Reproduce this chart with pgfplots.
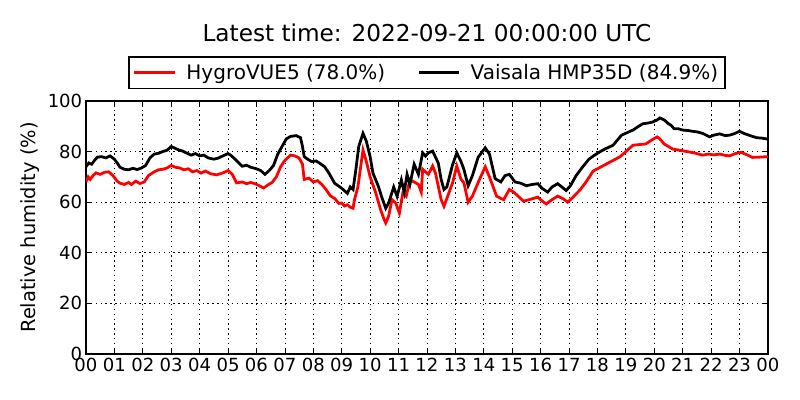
\documentclass[border=0pt]{standalone}
\usepackage{fontspec}
\setmainfont{DejaVu Sans}
\usepackage{pgfplots}
\pgfplotsset{compat=1.18}
\usepackage{pgfplotstable}

\pgfplotstableread{
h v
0.00 74
0.10 75.5
0.20 75
0.30 76.5
0.40 77.8
0.55 78
0.70 77.5
0.85 78.3
1.00 77
1.10 75.5
1.20 73.8
1.35 73
1.50 72.8
1.65 73.4
1.80 72.9
1.95 73.5
2.10 74.5
2.25 77.5
2.40 79
2.55 79.3
2.70 80
2.85 80.5
3.00 82
3.10 81.5
3.25 80.7
3.40 80.2
3.55 79.4
3.70 78.6
3.85 79.2
4.00 78.3
4.15 78.6
4.30 77.5
4.50 77
4.65 77.4
4.80 78.2
5.00 79.2
5.10 78.5
5.20 77.5
5.35 75.8
5.50 74.2
5.65 74.6
5.80 73.8
6.00 73.2
6.15 72.5
6.30 71
6.45 72.5
6.60 74.5
6.75 79
6.90 82
7.05 85
7.20 86
7.40 86.3
7.55 85.5
7.62 82
7.68 78
7.80 77
7.95 76
8.10 76.3
8.25 75.2
8.40 74
8.55 71.5
8.75 67.5
9.00 65.5
9.10 64.5
9.20 63.5
9.30 66
9.40 65
9.50 73
9.60 82
9.75 87.2
9.87 84
10.00 78
10.10 71.5
10.30 66
10.40 62.3
10.55 57.6
10.65 59.6
10.83 66
10.95 62.3
11.10 68.8
11.20 64
11.30 71
11.40 67
11.55 75
11.70 71
11.85 79.5
11.95 78.2
12.05 79.5
12.20 80.2
12.40 75.4
12.50 69
12.60 65
12.70 66
12.90 74.7
13.05 79.5
13.20 76
13.30 73
13.45 66.5
13.60 70.5
13.80 77.7
14.05 81.5
14.20 79
14.40 69.3
14.60 68
14.75 70.5
14.90 71
15.10 68
15.30 67.5
15.50 66.5
15.70 67
15.90 67.3
16.05 65.5
16.25 64
16.40 66
16.60 67.3
16.75 66
16.90 64.6
17.05 66.5
17.25 70.5
17.45 73.5
17.70 77
17.90 78.6
18.10 80
18.30 81.2
18.55 82.5
18.70 84.5
18.85 86.5
19.05 87.5
19.25 88.5
19.45 90
19.60 91
19.80 91.3
19.95 91.7
20.10 92.5
20.20 93.3
20.35 92.5
20.50 91
20.60 90.3
20.70 89
20.85 89
21.00 88.5
21.20 88.3
21.35 88
21.50 87.8
21.70 87.2
21.95 85.8
22.10 86.5
22.30 87
22.50 86.3
22.65 86.5
22.80 87
23.00 88
23.15 87.2
23.40 86.2
23.60 85.5
23.80 85.3
24.00 84.9
}\vaisala

\pgfplotstableread{
h v
0.00 68
0.08 70
0.15 69
0.25 70.5
0.35 71.6
0.50 71
0.65 71.8
0.80 72
0.95 70.5
1.10 68.3
1.20 67.5
1.35 67
1.50 67.8
1.60 67
1.75 68.3
1.90 67.4
2.05 68
2.20 70.5
2.40 72
2.55 72.8
2.70 73
2.85 73.5
3.00 74.5
3.15 73.8
3.30 73.5
3.45 72.8
3.60 73.2
3.75 72
3.90 72.5
4.05 71.5
4.20 72.3
4.40 71.2
4.60 70.8
4.80 71.5
5.00 72.5
5.15 71
5.30 67.6
5.50 68
5.65 67.3
5.80 67.8
5.95 67.3
6.10 66.5
6.25 65.6
6.40 66.8
6.55 67.8
6.70 70
6.85 74
7.00 76.5
7.20 78.6
7.35 78.3
7.50 77.5
7.62 75
7.68 69
7.85 69.5
8.00 68
8.15 68.5
8.30 67
8.45 65
8.60 62.5
8.75 61.5
8.90 59.5
9.00 59.7
9.10 58.5
9.20 59
9.30 58
9.40 57.6
9.45 61
9.57 66
9.70 76.6
9.75 80.6
9.87 76
10.00 70
10.20 63.6
10.37 57
10.50 53
10.55 51.8
10.65 54.4
10.77 61
10.90 59.7
11.03 55.7
11.15 63.6
11.27 62.3
11.40 68.8
11.55 68
11.70 67
11.80 64
11.85 73
12.05 71
12.20 74.3
12.30 71.5
12.50 61
12.60 58.4
12.77 63.6
12.90 67.6
13.05 74.3
13.20 69
13.30 67.7
13.45 60
13.60 62.4
13.85 69
14.05 74
14.20 70
14.45 62.4
14.60 61.5
14.70 61
14.90 65
15.05 64
15.15 63
15.40 60.4
15.60 61
15.75 61.5
15.90 62
16.05 60.5
16.20 59.3
16.40 61
16.60 62.4
16.80 61.3
16.95 60
17.10 61.5
17.40 65
17.60 68
17.85 72.3
18.05 73.5
18.30 75
18.55 76.5
18.80 78
19.00 80
19.25 82.5
19.50 82.8
19.70 83
19.90 84.5
20.10 85.8
20.20 85
20.35 83
20.50 82
20.65 81
20.90 80.5
21.15 80
21.40 79.5
21.70 78.6
21.90 79
22.10 78.7
22.30 79
22.50 78.5
22.65 78.3
22.85 79.2
23.05 79.7
23.25 78.8
23.45 77.7
23.70 77.8
24.00 78
}\hygro

\begin{document}
\begin{tikzpicture}
\useasboundingbox (-61.9pt,-33.1pt) rectangle (514.1pt,254.9pt);
\begin{axis}[
  at={(0,0)}, anchor=south west,
  scale only axis, width=491pt, height=182.2pt,
  xmin=0, xmax=24, ymin=0, ymax=100,
  xtick={0,1,...,24},
  xticklabels={00,01,02,03,04,05,06,07,08,09,10,11,12,13,14,15,16,17,18,19,20,21,22,23,00},
  ytick={0,20,40,60,80,100},
  /pgf/number format/assume math mode=true,
  tick label style={font=\fontsize{13}{15}\selectfont},
  xticklabel style={inner ysep=2.8pt},
  yticklabel style={inner xsep=2.5pt},
  tick align=inside,
  major tick length=4pt,
  every tick/.style={black, line width=0.5pt},
  axis line style={line width=1pt},
  grid=major,
  grid style={black, line width=0.5pt, dash pattern=on 1pt off 2.5pt},
  ylabel={Relative humidity (\%)},
  ylabel style={font=\fontsize{14}{16}\selectfont, at={(axis description cs:-0.0815,0.5)}, anchor=center, rotate=0},
  title={Latest time: 2022-09-21 00:00:00 UTC},
  title style={font=\fontsize{16.7}{20}\selectfont, at={(axis description cs:0.5,1)}, anchor=base, yshift=36.5pt},
  legend columns=2,
  legend style={at={(axis description cs:0.5,1)}, anchor=south, yshift=8.6pt,
    draw=black, line width=1pt, font=\fontsize{14.4}{17}\selectfont,
    inner xsep=3pt, inner ysep=3pt,
    /tikz/every odd column/.append style={column sep=5.5pt},
    /tikz/every even column/.append style={column sep=21pt}},
  legend image code/.code={\draw[#1, line width=2pt] (0pt,0pt) -- (29pt,0pt);},
]
\addplot[red, line width=2pt] table[x=h, y=v] {\hygro};
\addlegendentry{HygroVUE5 (78.0\%)}
\addplot[black, line width=2pt] table[x=h, y=v] {\vaisala};
\addlegendentry{Vaisala HMP35D (84.9\%)}
\end{axis}
\end{tikzpicture}
\end{document}
